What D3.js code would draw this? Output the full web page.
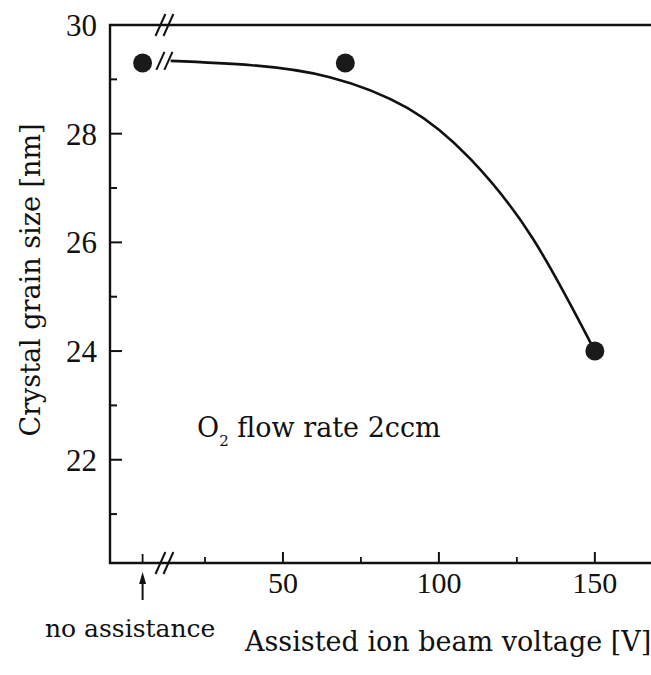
<!doctype html>
<html>
  <head>
    <meta http-equiv="Content-Type" content="text/html; charset=utf-8" />
    <title>Crystal grain size</title>
    <style>
      html, body { margin: 0; padding: 0; background: #fff; }
      svg { display: block; }
    </style>
  </head>
  <body>
    <svg id="chart" width="651" height="675"></svg>
    <script src="https://d3js.org/d3.v7.min.js"></script>
    <script>
      // measured points (voltage, grain size); "no assistance" sits left of the axis break
      var noAssistPos = 5
      var noAssistSize = 29.3
      var pointVoltage = [70, 150]
      var pointSize = [29.3, 24.0]

      // hand-drawn fit curve
      var fitVoltage = [14, 40, 65, 90, 110, 130, 150]
      var fitSize = [29.34, 29.26, 29.04, 28.47, 27.54, 26.08, 24.0]

      var breakPos = 12
      var xMajorTicks = [50, 100, 150]
      var xMinorTicks = [25, 75, 125]
      var yMajorTicks = [22, 24, 26, 28, 30]
      var yMinorTicks = [21, 23, 25, 27, 29]

      drawChart()

      function drawChart () {
        var svg = d3.select('#chart')
        var ink = '#111'
        var serif = '"DejaVu Serif", serif'
        var digits = '"Liberation Serif", serif'

        var x = d3.scaleLinear().domain([0, 168]).range([127, 651])
        var y = d3.scaleLinear().domain([20.1, 30]).range([563, 25])

        var xLeft = x.range()[0] - 17
        var xRight = x.range()[1]
        var yTop = y(30)
        var yBottom = y.range()[0]

        // frame: left spine, top and bottom lines
        svg.append('path')
          .attr('d', 'M' + xRight + ',' + yTop + 'H' + xLeft + 'V' + yBottom + 'H' + xRight)
          .attr('fill', 'none')
          .attr('stroke', ink)
          .attr('stroke-width', 2.4)

        // y ticks point inward
        svg.append('g').selectAll('line')
          .data(yMajorTicks.filter(function (d) { return d < 30 }))
          .join('line')
          .attr('x1', xLeft).attr('x2', xLeft + 12)
          .attr('y1', function (d) { return y(d) }).attr('y2', function (d) { return y(d) })
          .attr('stroke', ink).attr('stroke-width', 2)
        svg.append('g').selectAll('line')
          .data(yMinorTicks)
          .join('line')
          .attr('x1', xLeft).attr('x2', xLeft + 7)
          .attr('y1', function (d) { return y(d) }).attr('y2', function (d) { return y(d) })
          .attr('stroke', ink).attr('stroke-width', 2)
        svg.append('g').selectAll('text')
          .data(yMajorTicks)
          .join('text')
          .attr('x', xLeft - 13)
          .attr('y', function (d) { return y(d) })
          .attr('dy', '0.35em')
          .attr('text-anchor', 'end')
          .attr('font-family', digits)
          .attr('font-size', 31)
          .attr('fill', ink)
          .text(function (d) { return d })

        // x ticks point inward
        svg.append('g').selectAll('line')
          .data(xMajorTicks)
          .join('line')
          .attr('x1', function (d) { return x(d) }).attr('x2', function (d) { return x(d) })
          .attr('y1', yBottom).attr('y2', yBottom - 11)
          .attr('stroke', ink).attr('stroke-width', 2)
        svg.append('g').selectAll('line')
          .data(xMinorTicks.concat([noAssistPos]))
          .join('line')
          .attr('x1', function (d) { return x(d) }).attr('x2', function (d) { return x(d) })
          .attr('y1', yBottom).attr('y2', function (d) { return d === noAssistPos ? yBottom - 9 : yBottom - 6 })
          .attr('stroke', ink).attr('stroke-width', 1.8)
        svg.append('g').selectAll('text')
          .data(xMajorTicks)
          .join('text')
          .attr('x', function (d) { return x(d) })
          .attr('y', yBottom + 30)
          .attr('text-anchor', 'middle')
          .attr('font-family', digits)
          .attr('font-size', 30)
          .attr('fill', ink)
          .text(function (d) { return d })

        // "no assistance" arrow
        var ax = x(noAssistPos)
        svg.append('line')
          .attr('x1', ax).attr('x2', ax)
          .attr('y1', yBottom + 37).attr('y2', yBottom + 18)
          .attr('stroke', ink).attr('stroke-width', 2)
        svg.append('path')
          .attr('d', 'M' + ax + ',' + (yBottom + 9) + 'L' + (ax + 3.5) + ',' + (yBottom + 21) + 'L' + (ax - 3.5) + ',' + (yBottom + 21) + 'Z')
          .attr('fill', ink)

        // fit curve
        var line = d3.line()
          .x(function (d) { return x(d[0]) })
          .y(function (d) { return y(d[1]) })
          .curve(d3.curveNatural)
        svg.append('path')
          .datum(d3.zip(fitVoltage, fitSize))
          .attr('d', line)
          .attr('fill', 'none')
          .attr('stroke', ink)
          .attr('stroke-width', 2.6)

        // axis-break marks on top, bottom and on the curve
        var breaks = [yTop, yBottom, y(fitSize[0])]
        breaks.forEach(function (cy, i) {
          [-4, 4].forEach(function (off) {
            var cx = x(breakPos) + off
            var h = i === 2 ? 9 : 11
            svg.append('line')
              .attr('x1', cx - h * 0.45).attr('y1', cy + h)
              .attr('x2', cx + h * 0.45).attr('y2', cy - h)
              .attr('stroke', ink).attr('stroke-width', 2)
          })
        })

        // data points
        var points = [[noAssistPos, noAssistSize]].concat(d3.zip(pointVoltage, pointSize))
        svg.append('g').selectAll('circle')
          .data(points)
          .join('circle')
          .attr('cx', function (d) { return x(d[0]) })
          .attr('cy', function (d) { return y(d[1]) })
          .attr('r', 9.5)
          .attr('fill', '#1a1a1a')

        // labels
        svg.append('text')
          .attr('transform', 'translate(40,280) rotate(-90)')
          .attr('text-anchor', 'middle')
          .attr('font-family', serif)
          .attr('font-size', 27)
          .attr('fill', ink)
          .text('Crystal grain size [nm]')

        svg.append('text')
          .attr('x', 245)
          .attr('y', 651)
          .attr('font-family', serif)
          .attr('font-size', 27)
          .attr('fill', ink)
          .text('Assisted ion beam voltage [V]')

        svg.append('text')
          .attr('x', 45)
          .attr('y', 637)
          .attr('font-family', serif)
          .attr('font-size', 25)
          .attr('fill', ink)
          .text('no assistance')

        var note = svg.append('text')
          .attr('x', 197)
          .attr('y', 437)
          .attr('font-family', serif)
          .attr('font-size', 27)
          .attr('fill', ink)
        note.append('tspan').text('O')
        note.append('tspan').attr('dy', 9).attr('font-size', 15).text('2')
        note.append('tspan').attr('dy', -9).text(' flow rate 2ccm')
      }
    </script>
  </body>
</html>
